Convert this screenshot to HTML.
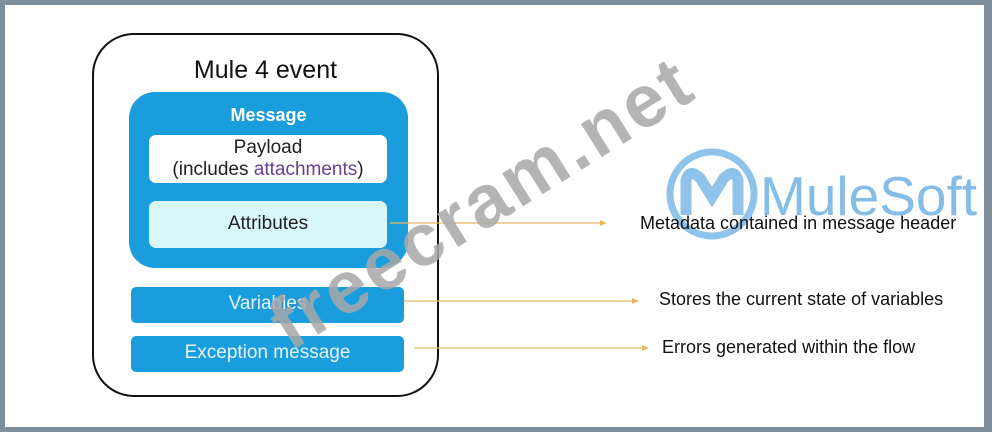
<!DOCTYPE html>
<html><head><style>
body{margin:0;width:992px;height:432px;overflow:hidden;background:#fff;font-family:"Liberation Sans",sans-serif}
.frame{position:absolute;left:0;top:0;width:992px;height:432px;box-sizing:border-box;border:5px solid #7f8e9c;border-right-width:8px}
.abs{position:absolute}
.box{position:absolute;box-sizing:border-box}
.t{position:absolute;white-space:nowrap}
</style></head><body>
<div class="frame"></div>
<div class="box" style="left:92px;top:33px;width:347px;height:364px;border:2px solid #111;border-radius:42px"></div>
<div class="t" style="left:92px;width:347px;text-align:center;top:56px;font-size:25px;color:#111">Mule 4 event</div>
<div class="box" style="left:129px;top:92px;width:279px;height:176px;background:#1a9ddc;border-radius:26px"></div>
<div class="t" style="left:129px;width:279px;text-align:center;top:105px;font-size:18px;font-weight:bold;color:#fff">Message</div>
<div class="box" style="left:149px;top:135px;width:238px;height:48px;background:#fff;border-radius:7px"></div>
<div class="t" style="left:149px;width:238px;text-align:center;top:137px;font-size:19px;line-height:22px;color:#222">Payload<br>(includes <span style="color:#6a3d8f">attachments</span>)</div>
<div class="box" style="left:149px;top:201px;width:238px;height:47px;background:#d9f6f9;border-radius:7px"></div>
<div class="t" style="left:149px;width:238px;text-align:center;top:213px;font-size:19px;color:#222">Attributes</div>
<div class="box" style="left:131px;top:287px;width:273px;height:36px;background:#1a9ddc;border-radius:5px"></div>
<div class="t" style="left:131px;width:273px;text-align:center;top:293px;font-size:19px;color:#e8f4fb">Variables</div>
<div class="box" style="left:131px;top:336px;width:273px;height:36px;background:#1a9ddc;border-radius:5px"></div>
<div class="t" style="left:131px;width:273px;text-align:center;top:342px;font-size:19px;color:#e8f4fb">Exception message</div>
<svg class="abs" style="left:0;top:0" width="992" height="432">
<g stroke="#e8b860" stroke-width="1.3" fill="#e8b860">
<line x1="390" y1="223" x2="600" y2="223"/><polygon points="600,220 607,223 600,226" stroke="none"/>
<line x1="404" y1="301" x2="632" y2="301"/><polygon points="632,298 639,301 632,304" stroke="none"/>
<line x1="414" y1="348" x2="642" y2="348"/><polygon points="642,345 649,348 642,351" stroke="none"/>
</g>
<circle cx="712" cy="194" r="42" fill="none" stroke="#7db9e6" stroke-width="7" opacity="0.85"/>
<path d="M686 215 L686 180 Q690 168 700 178 L712 197 L724 178 Q734 168 738 180 L738 215" fill="none" stroke="#7db9e6" stroke-width="11" opacity="0.85"/>
<text x="760" y="215" font-family="Liberation Sans" font-size="55" fill="#6fb2e4" opacity="0.85">MuleSoft</text>
<text x="0" y="0" transform="translate(290,352) rotate(-32)" font-family="Liberation Sans" font-weight="bold" font-size="74" fill="#a8a8a8" opacity="0.85" textLength="480">freecram.net</text>
</svg>
<div class="t" style="left:640px;top:213px;font-size:18px;color:#111">Metadata contained in message header</div>
<div class="t" style="left:659px;top:289px;font-size:18px;color:#111">Stores the current state of variables</div>
<div class="t" style="left:662px;top:337px;font-size:18px;color:#111">Errors generated within the flow</div>
</body></html>
